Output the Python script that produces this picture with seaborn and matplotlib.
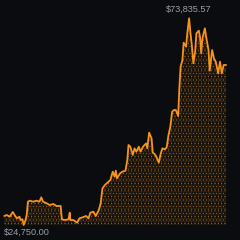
import matplotlib
matplotlib.use("Agg")
import matplotlib.pyplot as plt
import seaborn as sns
import pandas as pd

day = [0, 4, 9, 14, 18, 21, 25, 27, 30, 32, 35, 37, 39, 42, 48, 53, 58, 61, 64, 70,
       75, 81, 86, 93, 95, 100, 106, 108, 109, 114, 120, 124, 129, 135, 139, 142, 147, 151, 156, 159,
       162, 166, 172, 175, 179, 182, 184, 186, 191, 195, 200, 203, 205, 208, 212, 215, 218, 222, 225, 229,
       234, 236, 239, 243, 245, 248, 251, 255, 258, 261, 265, 268, 271, 274, 277, 280, 283, 287, 289, 291,
       294, 296, 300, 302, 305, 307, 310, 312, 315, 317, 321, 323, 325, 327, 331, 334, 337, 339, 343, 346,
       349, 353, 356, 359, 362, 366]
price = [26888, 27125, 26729, 27838, 26888, 26333, 26729, 25938, 26096, 24750,
         25938, 27125, 30292, 30529, 30292, 30529, 30292, 31321, 30292, 29896,
         29500, 29738, 29263, 29263, 26096, 25938, 26096, 27679, 25938, 25938,
         25304, 26333, 26571, 26888, 26333, 27679, 27917, 26888, 28313, 29896,
         33459, 34250, 35042, 35438, 37417, 36230, 37655, 35834, 37021, 37417,
         37655, 40188, 43751, 43355, 41376, 42959, 42167, 43355, 42167, 43355,
         44147, 42959, 46680, 45334, 41930, 41613, 40980, 39555, 41613, 42959,
         42722, 43197, 46126, 48105, 51668, 52064, 52064, 50639, 57606, 62356,
         63939, 68056, 67106, 70273, 73835.57, 70669, 66710, 63147, 65918, 70273,
         70906, 69481, 65523, 69085, 71460, 68689, 66314, 61406, 66314, 64335,
         63543, 60772, 63543, 60772, 62752, 62752]
max_label = "$73,835.57"
min_label = "$24,750.00"

df = pd.DataFrame({"day": day, "price": price})

sns.set_theme(style="dark")
plt.rcParams["font.family"] = ["Liberation Sans", "DejaVu Sans"]
plt.rcParams["hatch.linewidth"] = 0.4

bg = "#0b0c0f"
orange = "#f7931a"

fig = plt.figure(figsize=(2.4, 2.4), dpi=100, facecolor=bg)
ax = fig.add_axes([0, 0, 1, 1])
ax.set_facecolor(bg)

floor = min(price)
ax.fill_between(df["day"], df["price"], floor, facecolor="#0e0d0c",
                edgecolor="#33291a", hatch="+++++", linewidth=0)
ax.fill_between(df["day"], df["price"], floor, facecolor="none",
                edgecolor="#a86414", hatch=".....", linewidth=0)
sns.lineplot(data=df, x="day", y="price", ax=ax, color=orange, linewidth=1.3)

ax.set_xlim(-7.1, 389)
ax.set_ylim(21187, 78189)
ax.axis("off")

imax = price.index(max(price))
ax.annotate(max_label, xy=(day[imax], price[imax]), xytext=(0, 6.7),
            textcoords="offset points", ha="center", va="center",
            color="#9a9ea6", fontsize=6.6)
ax.annotate(min_label, xy=(day[0], floor), xytext=(0, -5.5),
            textcoords="offset points", ha="left", va="center",
            color="#9a9ea6", fontsize=6.6)

fig.savefig("out.png", dpi=100, facecolor=bg)
